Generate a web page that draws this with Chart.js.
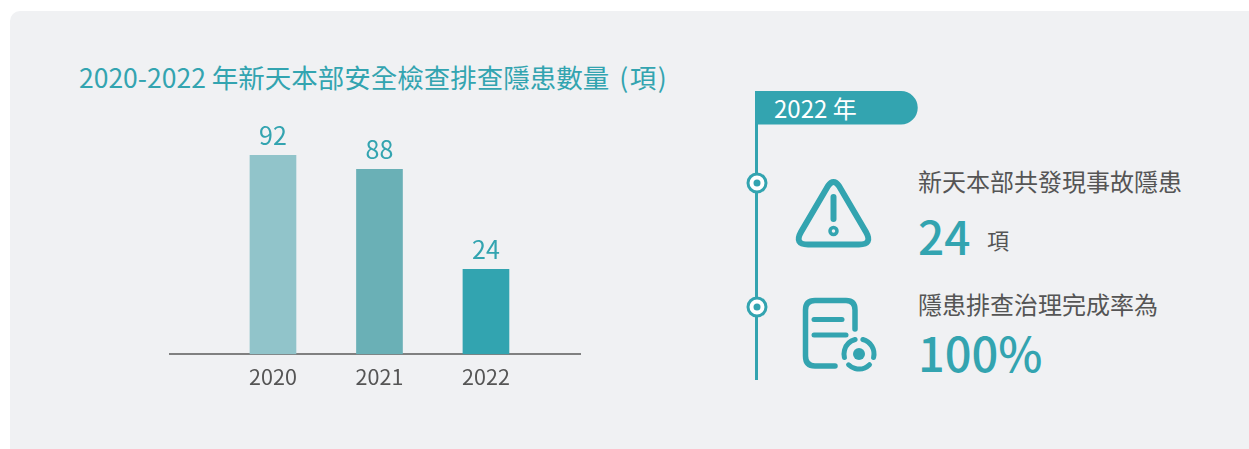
<!DOCTYPE html>
<html lang="zh-Hant">
<head>
<meta charset="utf-8">
<title>2020-2022 安全檢查排查隱患數量</title>
<script src="https://cdn.jsdelivr.net/npm/chart.js@4"></script>
<style>
  html, body { margin: 0; padding: 0; background: #fff; overflow: hidden; }
  body { width: 1249px; height: 449px; position: relative; font-family: "Noto Sans CJK TC", "Noto Sans", sans-serif; }
  #panel { position: absolute; left: 10px; top: 11px; width: 1239px; height: 438px; background: #f0f1f3; border-radius: 10px 0 0 0; }
  #chartBox { position: absolute; left: 0; top: 0; width: 700px; height: 449px; }
  .txt { position: absolute; white-space: nowrap; line-height: 1; }
  #chartTitle { left: 79px; top: 64px; font-size: 26.5px; color: #33a4b0; }
  #chartTitle span { margin-left: 4px; letter-spacing: 1.5px; }
  #flagText { left: 774px; top: 96px; font-size: 24px; color: #fff; }
  .desc { left: 918px; font-size: 24px; color: #555; }
  .num { left: 918px; font-weight: 500; color: #33a4b0; }
  #art { position: absolute; left: 0; top: 0; }
</style>
</head>
<body>
<div id="panel"></div>
<svg id="art" width="1249" height="449" fill="none" stroke="#33a4b0" stroke-linecap="round" stroke-linejoin="round">
  <line x1="756.5" y1="91" x2="756.5" y2="380" stroke-width="3" stroke-linecap="butt"/>
  <path d="M755 91 H901 A16.5 16.5 0 0 1 901 124.500 H755 Z" fill="#33a4b0" stroke="none"/>
  <circle cx="757" cy="183" r="9" fill="#fff" stroke-width="3"/>
  <circle cx="757" cy="183" r="3.500" fill="#33a4b0" stroke="none"/>
  <circle cx="757" cy="307" r="9" fill="#fff" stroke-width="3"/>
  <circle cx="757" cy="307" r="3.500" fill="#33a4b0" stroke="none"/>
  <path d="M828 186 Q833.500 178 839 186 L866 232 Q873 244.500 859 244.500 L808 244.500 Q794 244.500 801 232 Z" stroke-width="6"/>
  <line x1="833.500" y1="197" x2="833.500" y2="219" stroke-width="6"/>
  <circle cx="833.500" cy="231" r="3.500" stroke-width="3.500"/>
  <path d="M855 329 V310 Q855 300.500 846 300.500 H815 Q805.500 300.500 805.500 310 V356 Q805.500 366 815 366 H835" stroke-width="5.500"/>
  <line x1="814" y1="319.500" x2="842" y2="319.500" stroke-width="5"/>
  <line x1="814" y1="335" x2="846" y2="335" stroke-width="5"/>
  <circle cx="859" cy="354" r="6" fill="#33a4b0" stroke="none"/>
  <circle cx="859" cy="354" r="15" stroke-width="5" stroke-dasharray="23 8.400" transform="rotate(-75 859 354)"/>
</svg>
<div class="txt" id="chartTitle">2020-2022 年新天本部安全檢查排查隱患數量 <span>(項)</span></div>
<div class="txt" id="flagText">2022 年</div>
<div class="txt desc" style="top:169px">新天本部共發現事故隱患</div>
<div class="txt num" style="top:212px;font-size:46px">24</div>
<div class="txt desc" style="left:987px;top:228px;font-size:22px">項</div>
<div class="txt desc" style="top:292px">隱患排查治理完成率為</div>
<div class="txt num" style="top:328px;font-size:47px">100%</div>
<div id="chartBox"><canvas id="canvas"></canvas></div>

<script>
var years = [2020, 2021, 2022];

// numbers printed above the bars
var printedValues = ['92', '88', '24'];

// bar heights, the source bars are not to scale with their printed numbers
var barHeights = [92, 85.5, 39.3];

var barColors = ['#91c4ca', '#6ab0b6', '#32a4b0'];

var barLabels = {
    id: 'barLabels',
    afterDatasetsDraw: function(chart) {
        var ctx = chart.ctx;
        var bars = chart.getDatasetMeta(0).data;
        ctx.save();
        ctx.font = '25px "Noto Sans CJK TC"';
        ctx.fillStyle = '#33a4b0';
        ctx.textAlign = 'center';
        ctx.textBaseline = 'bottom';
        bars.forEach(function(bar, i) {
            ctx.fillText(printedValues[i], bar.x, bar.y - 7);
        });
        ctx.restore();
    }
};

window.onload = function() {
    var ctx = document.getElementById('canvas').getContext('2d');

    window.myBar = new Chart(ctx, {
        type: 'bar',
        data: {
            datasets: [{
                label: '隱患數量',
                backgroundColor: barColors,
                barThickness: 46,
                data: years.map(function(y, i) { return { x: y, y: barHeights[i] }; })
            }]
        },
        options: {
            responsive: true,
            maintainAspectRatio: false,
            animation: false,
            layout: { padding: { left: 0, right: 120, top: 104, bottom: 57 } },
            plugins: {
                legend: { display: false },
                tooltip: { enabled: false }
            },
            scales: {
                x: {
                    type: 'linear',
                    offset: false,
                    min: 2019.033,
                    max: 2022.883,
                    afterBuildTicks: function(scale) {
                        scale.ticks = years.map(function(y) { return { value: y }; });
                    },
                    grid: { display: false },
                    border: { color: '#808080', width: 2 },
                    ticks: {
                        color: '#555',
                        padding: 2,
                        maxRotation: 0,
                        autoSkip: false,
                        font: { family: '"Noto Sans CJK TC"', size: 21.5 },
                        callback: function(v) { return String(v); }
                    }
                },
                y: {
                    min: 0,
                    max: 115.7,
                    afterFit: function(scale) { scale.width = 170; },
                    grid: { display: false },
                    border: { display: false },
                    ticks: { display: false }
                }
            }
        },
        plugins: [barLabels]
    });
};
</script>
</body>
</html>
